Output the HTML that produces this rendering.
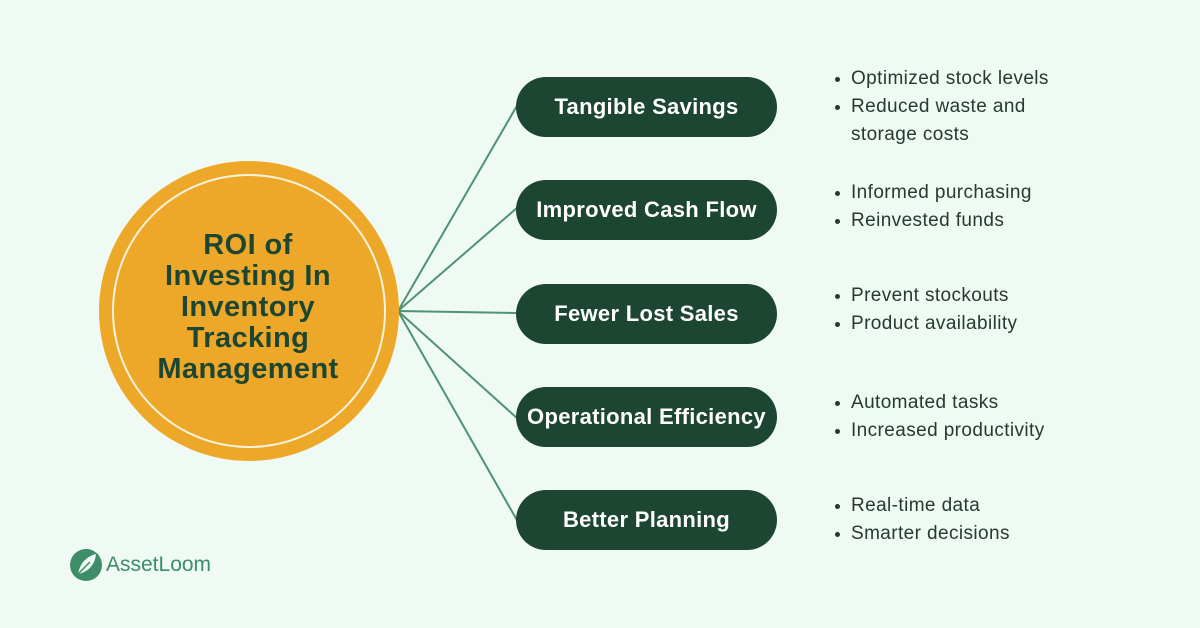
<!DOCTYPE html>
<html><head><style>
html,body{margin:0;padding:0}
body{width:1200px;height:628px;background:#eefaf3;position:relative;overflow:hidden;font-family:"Liberation Sans",sans-serif}
.pill{position:absolute;left:516px;width:261px;height:60px;border-radius:30px;background:#1c4631;color:#fff;font-weight:bold;font-size:22px;display:flex;align-items:center;justify-content:center;white-space:nowrap;letter-spacing:0.3px}
.b{position:absolute;left:832px;font-size:19px;color:#253a30;line-height:28px;margin:0;padding:0;list-style:none;letter-spacing:0.4px;white-space:nowrap}
.b li{position:relative;padding-left:19px}
.b li.d::before{content:"";position:absolute;left:3px;top:12px;width:5px;height:5px;border-radius:50%;background:#253a30}
.ct{position:absolute;left:90px;top:230px;width:316px;text-align:center;font-weight:bold;font-size:29px;line-height:31px;color:#1c4631;letter-spacing:0.4px}
</style></head><body>
<svg width="1200" height="628" style="position:absolute;left:0;top:0">
<g stroke="#4f9179" stroke-width="2" fill="none">
<line x1="398" y1="311" x2="518" y2="104"/>
<line x1="398" y1="311" x2="518" y2="207"/>
<line x1="398" y1="311" x2="518" y2="313"/>
<line x1="398" y1="311" x2="518" y2="419"/>
<line x1="398" y1="311" x2="518" y2="522"/>
</g>
<circle cx="249" cy="311" r="150" fill="#eda829"/>
<circle cx="249" cy="311" r="136" fill="none" stroke="#fbf3dc" stroke-width="2"/>
<circle cx="86" cy="565" r="16" fill="#3e8c68"/>
<path d="M78 574 C 80 562, 88 556, 96 554 C 95 565, 88 572, 78 574 Z" fill="#eefaf3"/>
<path d="M76 576 L 90 562" stroke="#3e8c68" stroke-width="1.5"/>
</svg>
<div class="ct">ROI of<br>Investing In<br>Inventory<br>Tracking<br>Management</div>
<div style="position:absolute;left:106px;top:553px;font-size:21px;color:#3e8c68">AssetLoom</div>
<div class="pill" style="top:77px">Tangible Savings</div>
<div class="pill" style="top:180px">Improved Cash Flow</div>
<div class="pill" style="top:284px">Fewer Lost Sales</div>
<div class="pill" style="top:387px">Operational Efficiency</div>
<div class="pill" style="top:490px">Better Planning</div>
<ul class="b" style="top:65px"><li class="d">Optimized stock levels</li><li class="d">Reduced waste and</li><li>storage costs</li></ul>
<ul class="b" style="top:179px"><li class="d">Informed purchasing</li><li class="d">Reinvested funds</li></ul>
<ul class="b" style="top:282px"><li class="d">Prevent stockouts</li><li class="d">Product availability</li></ul>
<ul class="b" style="top:389px"><li class="d">Automated tasks</li><li class="d">Increased productivity</li></ul>
<ul class="b" style="top:492px"><li class="d">Real-time data</li><li class="d">Smarter decisions</li></ul>
</body></html>
